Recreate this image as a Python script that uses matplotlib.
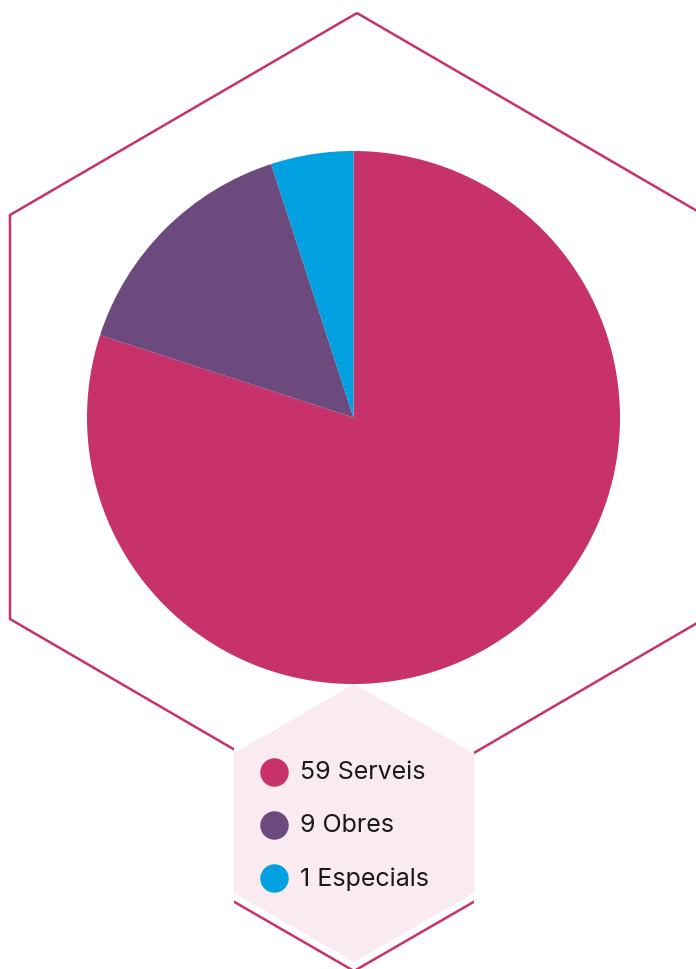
import matplotlib.pyplot as plt
from matplotlib.patches import Polygon, Rectangle
import numpy as np

# categories as shown in the legend, and their share of the pie
labels = ["59 Serveis", "9 Obres", "1 Especials"]
shares = [80, 15, 5]
colors = ["#c8326b", "#6c4a7e", "#00a0e1"]

W, H = 696, 970
PINK = "#c8326b"


def hexagon(cx, cy, r, rx=None):
    # pointy-top hexagon in pixel coords (y measured from the top)
    if rx is None:
        rx = r
    ang = np.deg2rad(np.arange(90, 450, 60))
    return np.column_stack([cx + rx * np.cos(ang), H - (cy - r * np.sin(ang))])


fig = plt.figure(figsize=(W / 100, H / 100), dpi=100)
ax = fig.add_axes([0, 0, 1, 1])

## big outlined hexagon behind everything
ax.add_patch(Polygon(hexagon(357, 418, 404, 400.7), closed=True, fill=False,
                     edgecolor=PINK, linewidth=1.8, zorder=1))

## small legend hexagon, with a white gap and pink lower edges
clip = Rectangle((234, 0), 240, H, transform=ax.transData)
outer = hexagon(354, 824, 148)
p = ax.add_patch(Polygon(outer, closed=True, facecolor="white", edgecolor="none", zorder=2))
p.set_clip_path(clip)
ln, = ax.plot(outer[[2, 3, 4], 0], outer[[2, 3, 4], 1], color=PINK, linewidth=1.8, zorder=2)
ln.set_clip_path(clip)
ax.add_patch(Polygon(hexagon(354, 824, 139), closed=True, facecolor="#f9ebf0",
                     edgecolor="none", zorder=3))

## pie
wedges, _ = ax.pie(shares, colors=colors, startangle=90, counterclock=False,
                   center=(353.5, H - 418.5), radius=266.5,
                   wedgeprops=dict(linewidth=0), frame=True)
for w in wedges:
    w.set_zorder(4)

## legend
for i, (lab, col) in enumerate(zip(labels, colors)):
    y = H - (773 + i * 53)
    ax.scatter([274], [y], s=26 ** 2 * 0.62, color=col, zorder=5, linewidths=0)
    ax.text(300, y, lab, fontsize=18, family="Inter", color="#1a1a1a",
            va="center", ha="left", zorder=5)

ax.set_xlim(0, W)
ax.set_ylim(0, H)
ax.set_aspect("equal")
ax.axis("off")

fig.savefig("out.png", dpi=100)
